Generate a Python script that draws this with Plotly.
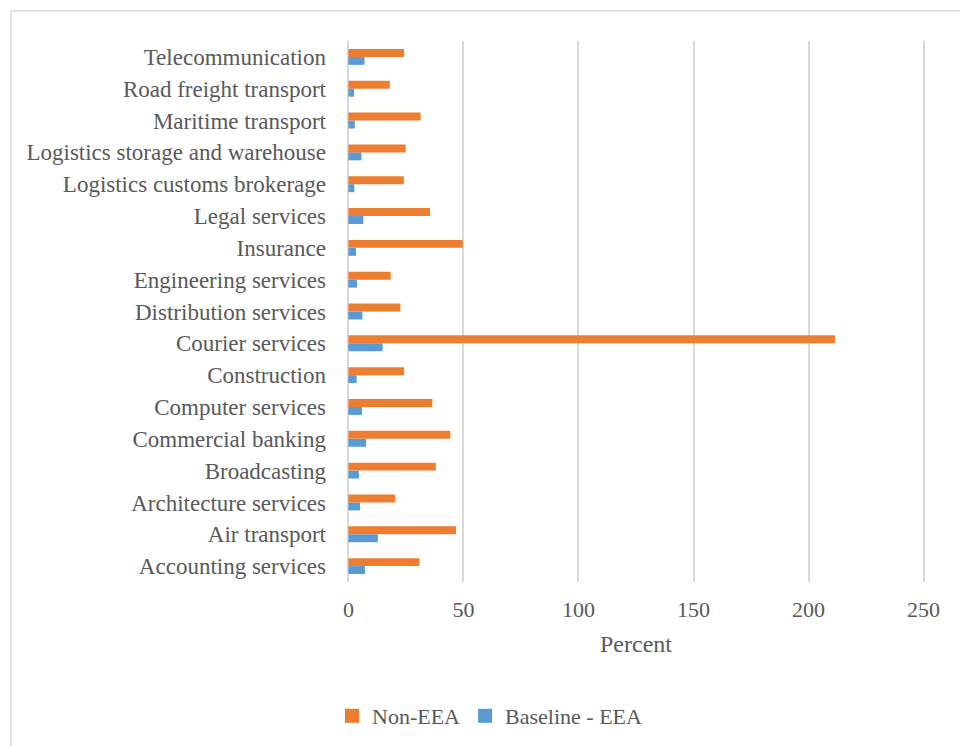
import plotly.graph_objects as go

# Sectors, listed bottom to top as drawn on the category axis
sectors = [
    "Accounting services",
    "Air transport",
    "Architecture services",
    "Broadcasting",
    "Commercial banking",
    "Computer services",
    "Construction",
    "Courier services",
    "Distribution services",
    "Engineering services",
    "Insurance",
    "Legal services",
    "Logistics customs brokerage",
    "Logistics storage and warehouse",
    "Maritime transport",
    "Road freight transport",
    "Telecommunication",
]

non_eea = [30.9, 46.8, 20.3, 38.0, 44.3, 36.5, 24.2, 211.5, 22.6, 18.4,
           49.7, 35.5, 24.1, 24.9, 31.4, 18.0, 24.2]
baseline_eea = [7.2, 12.8, 5.1, 4.6, 7.7, 5.9, 3.6, 14.9, 6.1, 3.8,
                3.3, 6.5, 2.6, 5.7, 2.8, 2.5, 7.0]

x_ticks = [0, 50, 100, 150, 200, 250]

FONT = "Liberation Serif"
TEXT = "#595959"
ORANGE = "#ED7D31"
BLUE = "#5B9BD5"

fig = go.Figure()
fig.add_trace(go.Bar(
    y=sectors, x=baseline_eea, orientation="h", name="Baseline - EEA",
    marker=dict(color=BLUE, line=dict(width=0)), showlegend=False,
))
fig.add_trace(go.Bar(
    y=sectors, x=non_eea, orientation="h", name="Non-EEA",
    marker=dict(color=ORANGE, line=dict(width=0)), showlegend=False,
))
# legend entries with square swatches
for nm, col in [("Non-EEA", ORANGE), ("Baseline - EEA", BLUE)]:
    fig.add_trace(go.Scatter(
        x=[None], y=[None], mode="markers", name=nm,
        marker=dict(symbol="square", size=14, color=col),
    ))

L, R, T, B = 347, 35, 41, 164
W, H = 960, 746
pw, ph = W - L - R, H - T - B

def px_x(p):
    return (p - L) / pw

def px_y(p):
    return (H - B - p) / ph

fig.update_layout(
    width=W, height=H,
    margin=dict(l=L, r=R, t=T, b=B, autoexpand=False),
    paper_bgcolor="white", plot_bgcolor="white",
    barmode="group", bargap=0.5, bargroupgap=0,
    font=dict(family=FONT, size=22, color=TEXT),
    xaxis=dict(
        range=[-0.6, 250.6], tickvals=x_ticks, showgrid=True,
        gridcolor="#D9D9D9", gridwidth=1.5, zeroline=False,
        showline=False, ticks="", tickfont=dict(size=22, color=TEXT),
        ticklabelstandoff=12,
        title=dict(text="Percent", font=dict(size=24, color=TEXT), standoff=14),
    ),
    yaxis=dict(
        showgrid=False, zeroline=False, showline=False, ticks="",
        tickfont=dict(size=23, color=TEXT), ticklabelstandoff=20,
    ),
    legend=dict(
        orientation="h", x=px_x(490), xanchor="center", y=px_y(716), yanchor="middle",
        font=dict(size=22, color=TEXT), itemwidth=30, tracegroupgap=0,
    ),
    showlegend=True,
    shapes=[
        dict(type="rect", xref="paper", yref="paper",
             x0=px_x(11), x1=px_x(1000), y0=px_y(11), y1=px_y(800),
             line=dict(color="#D9D9D9", width=1.5), fillcolor="rgba(0,0,0,0)",
             layer="below"),
    ],
)

fig.write_html("out.html")
